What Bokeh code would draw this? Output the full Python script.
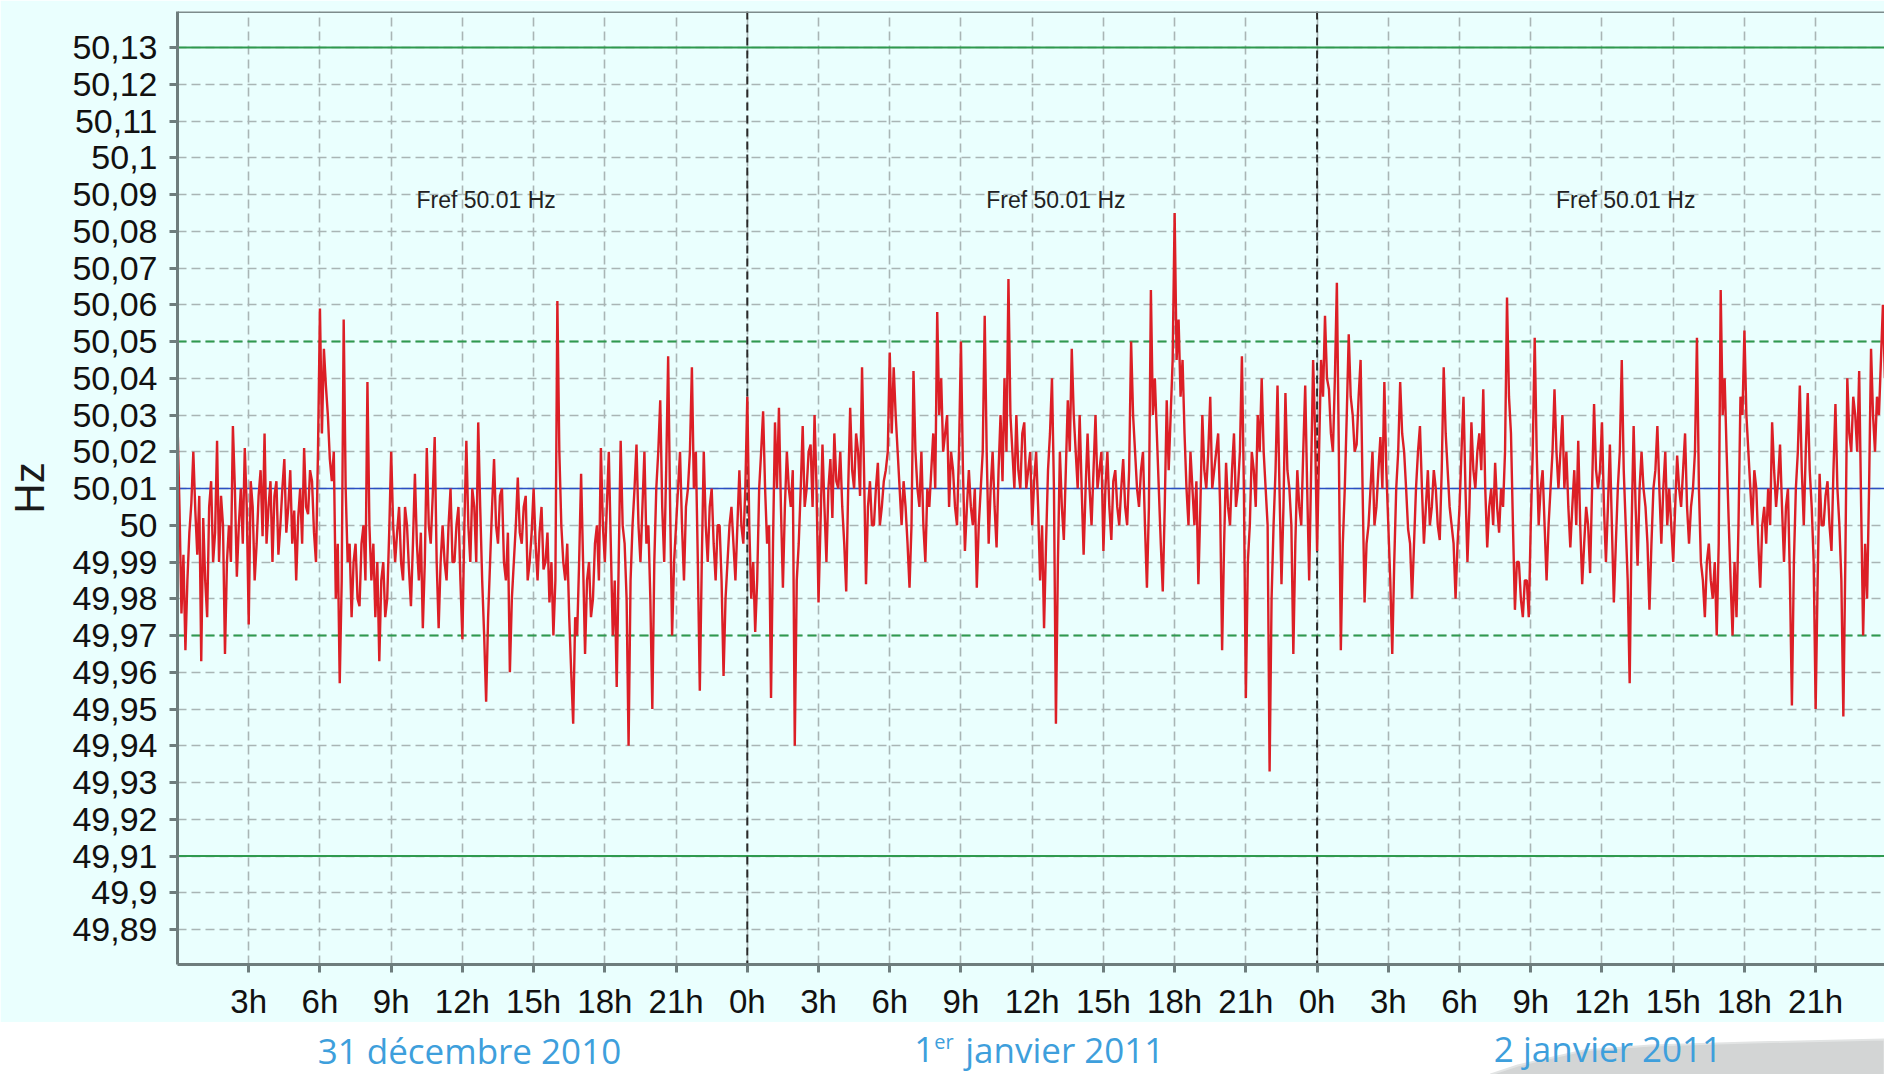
import numpy as np
from bokeh.plotting import figure
from bokeh.models import Range1d, FixedTicker, CustomJSTickFormatter, Span
from bokeh.layouts import column
from bokeh.embed import file_html
from bokeh.resources import INLINE
from bokeh.core.properties import value

# ---------------- data (Hz, one value every 5 minutes, one row per hour) ----------------
day1_dec31 = [
    50.028, 50.005, 49.976, 49.992, 49.966, 49.985, 49.998, 50.006, 50.020, 50.004, 49.992, 50.008,
    49.963, 50.002, 49.985, 49.975, 50.005, 50.012, 49.990, 49.998, 50.023, 49.990, 50.008, 50.000,
    49.965, 49.990, 50.000, 49.990, 50.027, 50.010, 49.986, 50.000, 50.010, 49.995, 50.021, 50.005,
    49.973, 50.012, 50.005, 49.985, 49.995, 50.008, 50.015, 49.997, 50.025, 49.995, 50.005, 50.012,
    49.990, 50.008, 50.012, 49.992, 50.000, 50.010, 50.018, 49.998, 50.005, 50.015, 49.995, 50.004,
    49.985, 50.002, 50.010, 49.995, 50.021, 50.005, 50.003, 50.015, 50.012, 49.998, 49.990, 50.020,
    50.059, 50.025, 50.048, 50.038, 50.030, 50.018, 50.012, 50.020, 49.980, 49.995, 49.957, 49.985,
    50.056, 50.010, 49.990, 49.995, 49.975, 49.990, 49.995, 49.980, 49.978, 49.995, 50.000, 49.985,
    50.039, 50.000, 49.985, 49.995, 49.975, 49.990, 49.963, 49.985, 49.990, 49.975, 49.980, 49.998,
    50.020, 50.000, 49.990, 49.998, 50.005, 49.990, 49.985, 50.005, 50.000, 49.988, 49.978, 49.995,
    50.014, 49.995, 49.985, 49.998, 49.972, 49.990, 50.021, 50.000, 49.995, 50.008, 50.024, 49.990,
    49.972, 49.990, 50.000, 49.990, 49.985, 50.000, 50.010, 49.990, 49.990, 50.000, 50.005, 49.985,
    49.969, 50.000, 50.023, 50.000, 49.990, 50.010, 50.005, 49.990, 50.028, 50.005, 49.985, 49.970,
    49.952, 49.975, 49.990, 50.005, 50.018, 50.000, 49.995, 50.008, 50.010, 49.990, 49.985, 49.998,
    49.960, 49.980, 49.990, 50.000, 50.013, 49.998, 49.995, 50.005, 50.008, 49.985, 49.990, 49.998,
    50.010, 49.995, 49.985, 49.998, 50.005, 49.988, 49.990, 49.998, 49.979, 49.990, 49.970, 49.985,
    50.061, 50.020, 50.000, 49.990, 49.985, 49.995, 49.975, 49.960, 49.946, 49.975, 49.970, 49.990,
    50.014, 49.990, 49.965, 49.985, 49.990, 49.975, 49.980, 49.995, 50.000, 49.985, 50.021, 50.000,
    49.990, 50.005, 50.020, 49.995, 49.970, 49.985, 49.956, 49.990, 50.023, 50.000, 49.995, 49.980,
    49.940, 49.985, 50.000, 50.010, 50.022, 50.000, 49.990, 50.005, 50.020, 49.995, 50.000, 49.980,
    49.950, 49.990, 50.010, 50.020, 50.034, 50.005, 49.990, 50.015, 50.046, 50.005, 49.970, 49.990,
    50.000, 50.010, 50.020, 50.000, 49.985, 50.005, 50.010, 50.020, 50.043, 50.010, 50.020, 49.990,
    49.955, 49.990, 50.020, 50.000, 49.990, 50.005, 50.010, 49.995, 49.985, 50.000, 50.000, 49.985,
    49.959, 49.980, 49.990, 50.000, 50.005, 49.995, 49.985, 50.000, 50.015, 50.000, 49.995, 50.010,
]
day2_jan01 = [
    50.035, 50.000, 49.980, 49.990, 49.971, 49.985, 50.010, 50.020, 50.031, 50.010, 49.995, 50.000,
    49.953, 49.995, 50.028, 50.010, 50.032, 50.005, 49.983, 50.005, 50.020, 50.010, 50.005, 50.015,
    49.940, 49.985, 49.995, 50.010, 50.027, 50.005, 50.010, 50.020, 50.022, 50.005, 50.030, 50.010,
    49.979, 50.000, 50.022, 50.005, 49.990, 50.010, 50.018, 50.002, 50.025, 50.012, 50.010, 50.020,
    50.005, 49.995, 49.982, 50.010, 50.032, 50.015, 50.010, 50.025, 50.020, 50.008, 50.043, 50.015,
    49.984, 50.005, 50.012, 50.000, 50.000, 50.010, 50.017, 50.000, 50.005, 50.012, 50.015, 50.020,
    50.047, 50.025, 50.043, 50.030, 50.020, 50.010, 50.000, 50.012, 50.005, 49.995, 49.983, 50.000,
    50.042, 50.020, 50.010, 50.005, 50.020, 50.000, 49.990, 50.010, 50.005, 50.015, 50.025, 50.010,
    50.058, 50.030, 50.040, 50.020, 50.025, 50.030, 50.005, 50.020, 50.015, 50.005, 50.000, 50.020,
    50.050, 50.015, 49.993, 50.005, 50.015, 50.005, 50.000, 50.010, 49.983, 50.000, 50.010, 50.020,
    50.057, 50.020, 49.995, 50.010, 50.020, 50.005, 49.994, 50.015, 50.030, 50.012, 50.040, 50.020,
    50.067, 50.030, 50.020, 50.010, 50.030, 50.015, 50.010, 50.025, 50.028, 50.010, 50.015, 50.020,
    50.000, 50.012, 50.020, 50.005, 49.985, 50.000, 49.972, 49.995, 50.015, 50.025, 50.040, 50.010,
    49.946, 49.990, 50.020, 50.005, 49.996, 50.015, 50.034, 50.020, 50.048, 50.030, 50.020, 50.010,
    50.030, 50.010, 49.992, 50.010, 50.025, 50.010, 50.000, 50.015, 50.030, 50.010, 50.015, 50.020,
    49.993, 50.010, 50.020, 50.005, 49.996, 50.012, 50.015, 50.005, 50.000, 50.010, 50.018, 50.005,
    50.000, 50.015, 50.050, 50.030, 50.020, 50.010, 50.005, 50.015, 50.020, 50.000, 49.983, 50.005,
    50.064, 50.030, 50.040, 50.025, 50.010, 49.995, 49.982, 50.005, 50.034, 50.015, 50.030, 50.045,
    50.085, 50.045, 50.056, 50.035, 50.045, 50.025, 50.010, 50.000, 50.020, 50.010, 50.000, 50.012,
    49.984, 50.005, 50.030, 50.015, 50.010, 50.020, 50.035, 50.010, 50.015, 50.020, 50.025, 50.005,
    49.966, 49.995, 50.017, 50.005, 50.000, 50.015, 50.025, 50.005, 50.010, 50.020, 50.046, 50.010,
    49.953, 49.990, 50.000, 50.020, 50.015, 50.005, 50.030, 50.020, 50.040, 50.020, 50.010, 50.000,
    49.933, 49.980, 50.000, 50.015, 50.038, 50.010, 49.984, 50.005, 50.036, 50.015, 50.010, 50.000,
    49.965, 49.995, 50.015, 50.005, 50.000, 50.020, 50.038, 50.010, 49.985, 50.015, 50.045, 50.025,
]
day3_jan02 = [
    49.993, 50.020, 50.045, 50.035, 50.057, 50.040, 50.037, 50.025, 50.020, 50.040, 50.066, 50.020,
    49.966, 49.995, 50.010, 50.030, 50.052, 50.035, 50.030, 50.020, 50.022, 50.035, 50.045, 50.010,
    49.979, 49.995, 50.000, 50.010, 50.020, 50.000, 50.005, 50.015, 50.024, 50.010, 50.039, 50.015,
    50.000, 49.985, 49.965, 49.990, 50.010, 50.020, 50.039, 50.025, 50.020, 50.010, 49.999, 49.995,
    49.980, 49.995, 50.010, 50.020, 50.027, 50.010, 49.995, 50.005, 50.015, 50.000, 50.005, 50.015,
    50.010, 50.000, 49.996, 50.015, 50.043, 50.025, 50.015, 50.005, 50.000, 49.995, 49.980, 49.995,
    50.005, 50.020, 50.035, 50.010, 49.990, 50.005, 50.028, 50.015, 50.010, 50.020, 50.025, 50.015,
    50.037, 50.010, 49.994, 50.005, 50.010, 50.000, 50.017, 50.005, 49.998, 50.010, 50.005, 50.020,
    50.062, 50.035, 50.025, 50.000, 49.977, 49.990, 49.990, 49.980, 49.975, 49.985, 49.985, 49.975,
    50.000, 50.020, 50.051, 50.020, 50.000, 50.010, 50.015, 50.000, 49.985, 50.000, 50.010, 50.020,
    50.037, 50.020, 50.010, 50.020, 50.030, 50.010, 50.020, 50.005, 49.994, 50.005, 50.015, 50.000,
    50.023, 50.000, 49.984, 49.995, 50.005, 50.000, 49.987, 50.010, 50.033, 50.015, 50.010, 50.015,
    50.028, 50.005, 49.990, 50.005, 50.022, 50.000, 49.979, 49.995, 50.010, 50.020, 50.045, 50.015,
    50.000, 49.985, 49.957, 50.000, 50.027, 50.005, 49.989, 50.010, 50.020, 50.010, 50.005, 49.995,
    49.977, 49.995, 50.010, 50.015, 50.027, 50.010, 49.995, 50.010, 50.020, 50.000, 50.010, 50.000,
    49.990, 50.005, 50.019, 50.010, 50.005, 50.015, 50.025, 50.005, 49.995, 50.005, 50.010, 50.020,
    50.051, 50.010, 49.990, 49.985, 49.975, 49.990, 49.995, 49.985, 49.980, 49.990, 49.970, 49.995,
    50.064, 50.030, 50.040, 50.020, 50.002, 49.985, 49.970, 49.990, 49.975, 50.000, 50.035, 50.030,
    50.053, 50.030, 50.020, 50.010, 50.000, 50.015, 50.010, 49.995, 49.983, 50.000, 50.005, 49.995,
    50.010, 50.000, 50.028, 50.015, 50.005, 50.012, 50.022, 50.005, 49.990, 50.005, 50.010, 49.985,
    49.951, 49.990, 50.010, 50.020, 50.038, 50.015, 50.000, 50.020, 50.036, 50.015, 50.005, 49.990,
    49.950, 49.985, 50.014, 50.000, 50.000, 50.008, 50.012, 50.000, 49.993, 50.015, 50.033, 50.010,
    50.000, 49.985, 49.948, 49.990, 50.040, 50.025, 50.020, 50.035, 50.030, 50.020, 50.042, 50.005,
    49.970, 49.995, 49.980, 50.010, 50.048, 50.030, 50.020, 50.035, 50.030, 50.045, 50.060, 50.040,
]
frequency = day1_dec31 + day2_jan01 + day3_jan02
samples_per_hour = 12
hours = np.arange(len(frequency)) / samples_per_hour

x_ticks = [3, 6, 9, 12, 15, 18, 21, 24, 27, 30, 33, 36, 39, 42, 45, 48,
           51, 54, 57, 60, 63, 66, 69]
x_tick_labels = ["3h", "6h", "9h", "12h", "15h", "18h", "21h", "0h", "3h", "6h",
                 "9h", "12h", "15h", "18h", "21h", "0h", "3h", "6h", "9h", "12h",
                 "15h", "18h", "21h"]
y_ticks = [49.89, 49.90, 49.91, 49.92, 49.93, 49.94, 49.95, 49.96, 49.97, 49.98,
           49.99, 50.00, 50.01, 50.02, 50.03, 50.04, 50.05, 50.06, 50.07, 50.08,
           50.09, 50.10, 50.11, 50.12, 50.13]
y_tick_labels = ["49,89", "49,9", "49,91", "49,92", "49,93", "49,94", "49,95",
                 "49,96", "49,97", "49,98", "49,99", "50", "50,01", "50,02",
                 "50,03", "50,04", "50,05", "50,06", "50,07", "50,08", "50,09",
                 "50,1", "50,11", "50,12", "50,13"]

outer_limits = [49.91, 50.13]
inner_limits = [49.97, 50.05]
f_ref = 50.01
day_starts = [24, 48]
fref_texts = ["Fref 50.01 Hz", "Fref 50.01 Hz", "Fref 50.01 Hz"]
fref_hours = [13, 37, 61]
date_texts = ["31 décembre 2010", "1", "er", "janvier 2011", "2 janvier 2011"]

# ---------------- styling ----------------
BG = "#EAFFFE"
AXIS_C = "#6E7D7D"
GRID_C = "#A9B5B5"
GREEN = "#2F9A4F"
BLUE = "#2B4FC4"
RED = "#DC1F26"
DATE_C = "#3E9FDC"
FONT = "Liberation Sans"

W = 1884
TOP_H = 1022
STRIP_H = 52
X_END = 71.9
Y0, Y1 = 49.8805, 50.1398

fmt_code = """
let best = 0;
for (let i = 0; i < tvals.length; i++) {
  if (Math.abs(tvals[i] - tick) < Math.abs(tvals[best] - tick)) best = i;
}
return tlabels[best];
"""

p = figure(width=W, height=TOP_H, x_range=Range1d(0, X_END), y_range=Range1d(Y0, Y1),
           output_backend="svg", toolbar_location=None, title=None,
           min_border_left=177, min_border_right=0, min_border_top=11, min_border_bottom=58,
           background_fill_color=BG, border_fill_color=BG, outline_line_color=None)

p.xaxis.ticker = FixedTicker(ticks=x_ticks)
p.xaxis.formatter = CustomJSTickFormatter(args=dict(tvals=x_ticks, tlabels=x_tick_labels), code=fmt_code)
p.yaxis.ticker = FixedTicker(ticks=y_ticks)
p.yaxis.formatter = CustomJSTickFormatter(args=dict(tvals=y_ticks, tlabels=y_tick_labels), code=fmt_code)

for ax in (p.xaxis[0], p.yaxis[0]):
    ax.axis_line_color = AXIS_C
    ax.axis_line_width = 3
    ax.major_tick_line_color = AXIS_C
    ax.major_tick_line_width = 3
    ax.major_tick_out = 8
    ax.major_tick_in = 0
    ax.minor_tick_line_color = None
    ax.major_label_text_font = FONT
    ax.major_label_text_color = "#111111"

p.xaxis.major_label_text_font_size = "33px"
p.xaxis.major_label_standoff = 10
p.yaxis.major_label_text_font_size = "34px"
p.yaxis.major_label_standoff = 12
p.yaxis.axis_label = "Hz"
p.yaxis.axis_label_text_font = FONT
p.yaxis.axis_label_text_font_size = "42px"
p.yaxis.axis_label_text_font_style = "normal"
p.yaxis.axis_label_text_color = "#1a1a1a"
p.yaxis.axis_label_standoff = 16

p.xgrid.ticker = FixedTicker(ticks=x_ticks)
p.ygrid.ticker = FixedTicker(ticks=y_ticks)
for g in (p.xgrid[0], p.ygrid[0]):
    g.grid_line_color = GRID_C
    g.grid_line_dash = "9 5"
    g.grid_line_width = 1.6

# reference / limit lines
for y in outer_limits:
    p.add_layout(Span(location=y, dimension="width", line_color=GREEN, line_width=2, level="underlay"))
for y in inner_limits:
    p.add_layout(Span(location=y, dimension="width", line_color=GREEN, line_width=2,
                      line_dash="9 5", level="underlay"))
p.add_layout(Span(location=f_ref, dimension="width", line_color=BLUE, line_width=1.6, level="underlay"))
for d in day_starts:
    p.add_layout(Span(location=d, dimension="height", line_color="#2a2a2a", line_width=2,
                      line_dash="8 5", level="underlay"))
# top frame line
p.add_layout(Span(location=Y1, dimension="width", line_color="#7D8C8C", line_width=3, level="underlay"))

p.line(hours, frequency, line_color=RED, line_width=2.4)

p.text(x=fref_hours, y=[50.0886] * len(fref_hours), text=fref_texts,
       text_font=value(FONT), text_font_size="23px", text_color="#222222",
       text_align="center", text_baseline="middle")

# ---------------- date strip below (x in hours, y in pixels) ----------------
b = figure(width=W, height=STRIP_H, x_range=p.x_range, y_range=Range1d(0, STRIP_H),
           output_backend="svg", toolbar_location=None, title=None,
           x_axis_location=None, y_axis_location=None,
           min_border_left=177, min_border_right=0, min_border_top=0, min_border_bottom=0,
           background_fill_color="white", border_fill_color="white", outline_line_color=None)
b.grid.visible = False

swoosh_x = [55.31, 56.45, 59.23, 62.05, 66.26, 71.9, 71.9, 55.31]
swoosh_y = [0, 9, 24, 29, 32, 35, -2, -2]
b.patch(swoosh_x, swoosh_y, fill_color="#D3D5D5", line_color="#E2E4E4", line_width=2)

DFONT = value("Open Sans")
# main date texts (35px)
b.text(x=[12, 36, 36, 60], y=[24, 25, 25, 26],
       text=[date_texts[0], date_texts[1], date_texts[3], date_texts[4]],
       x_offset=[7, -118, -67, 6],
       text_align=["center", "left", "left", "center"],
       text_font=DFONT, text_font_size="35px", text_color=DATE_C, text_baseline="middle")
# superscript "er"
b.text(x=[36], y=[33], text=[date_texts[2]], x_offset=[-98],
       text_align="left", text_font=DFONT, text_font_size="20px",
       text_color=DATE_C, text_baseline="middle")

layout = column(p, b, spacing=0)
open("out.html", "w").write(file_html(layout, INLINE))
